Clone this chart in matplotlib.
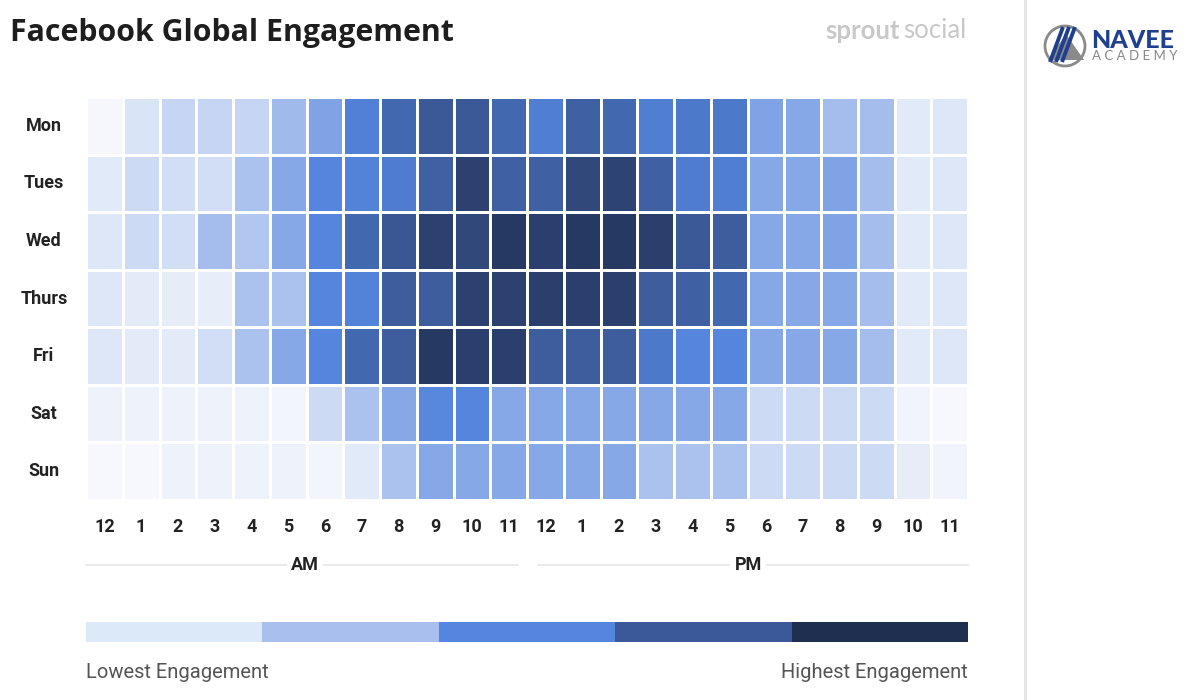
import numpy as np
import matplotlib
matplotlib.use('Agg')
import matplotlib.pyplot as plt
from matplotlib.colors import LinearSegmentedColormap
from matplotlib.patches import Rectangle, Circle, Polygon

days = ['Mon', 'Tues', 'Wed', 'Thurs', 'Fri', 'Sat', 'Sun']
hours = ['12', '1', '2', '3', '4', '5', '6', '7', '8', '9', '10', '11',
         '12', '1', '2', '3', '4', '5', '6', '7', '8', '9', '10', '11']

# engagement level, 0 (lowest) .. 10 (highest)
mon = [0.3, 1.5, 2.2, 2.2, 2.2, 3.3, 4.2, 5.5, 6.5, 7.2, 7.2, 6.5,
       5.6, 6.8, 6.5, 5.6, 5.8, 5.8, 4.2, 4.0, 3.2, 3.2, 1.2, 1.3]
tues = [1.2, 2.0, 1.8, 1.8, 3.0, 4.0, 5.3, 5.4, 5.7, 6.8, 8.3, 6.8,
        6.8, 8.0, 8.2, 6.8, 5.7, 5.6, 4.0, 4.0, 4.2, 3.2, 1.2, 1.3]
wed = [1.3, 2.0, 1.8, 3.2, 2.8, 4.0, 5.3, 6.5, 7.3, 8.3, 8.0, 9.0,
       8.4, 9.0, 9.0, 8.5, 7.2, 7.0, 4.0, 4.0, 4.2, 3.2, 1.2, 1.3]
thurs = [1.3, 1.1, 1.0, 0.9, 3.0, 3.0, 5.3, 5.4, 7.0, 7.0, 8.3, 8.3,
         8.5, 8.4, 8.4, 7.0, 6.8, 6.5, 4.0, 4.0, 4.0, 3.2, 1.2, 1.3]
fri = [1.3, 1.1, 1.1, 1.8, 3.0, 4.0, 5.3, 6.5, 7.0, 9.0, 8.4, 8.4,
       7.0, 7.0, 7.0, 5.8, 5.3, 5.3, 4.0, 4.0, 4.0, 3.2, 1.2, 1.3]
sat = [0.6, 0.6, 0.6, 0.6, 0.6, 0.4, 2.0, 3.0, 4.0, 5.2, 5.3, 4.0,
       4.0, 4.0, 4.0, 4.0, 4.0, 4.0, 2.0, 2.0, 2.0, 2.0, 0.5, 0.2]
sun = [0.2, 0.2, 0.6, 0.6, 0.6, 0.6, 0.4, 1.2, 3.0, 4.0, 4.0, 4.0,
       4.0, 4.0, 4.0, 3.0, 3.0, 3.0, 2.0, 2.0, 2.0, 2.0, 1.0, 0.5]

legend_colors = ['#dce9f8', '#a9c0ee', '#5586df', '#3b5898', '#1f2f4f']

cmap = LinearSegmentedColormap.from_list('eng', [
    (0.00, '#fafbfe'), (0.10, '#e6edf9'), (0.20, '#ccdaf4'),
    (0.30, '#abc2ee'), (0.40, '#86a8e6'), (0.53, '#5585dd'),
    (0.65, '#4268b0'), (0.73, '#3a5793'), (0.83, '#2c4170'),
    (1.00, '#1e2d50')])

label_font = 'Roboto'

W, H = 1200, 700
fig = plt.figure(figsize=(12, 7), dpi=100)
fig.patch.set_facecolor('white')

# heatmap
x0, x1, y0, y1 = 86, 968, 97, 500
ax = fig.add_axes([x0 / W, 1 - y1 / H, (x1 - x0) / W, (y1 - y0) / H])
grid = np.array([mon, tues, wed, thurs, fri, sat, sun])
ax.pcolormesh(grid, cmap=cmap, vmin=0, vmax=10, edgecolors='white', linewidth=1.0)
ax.set_xlim(0, len(hours))
ax.set_ylim(len(days), 0)
ax.axis('off')

# overlay in pixel coordinates for text and decorations
ov = fig.add_axes([0, 0, 1, 1], facecolor='none')
ov.set_xlim(0, W)
ov.set_ylim(H, 0)
ov.axis('off')

ov.text(10, 33, 'Facebook Global Engagement', fontsize=21.8, fontweight='bold',
        color='#1e1e1e', va='center', ha='left', family='Open Sans')
ov.text(825, 31, 'sprout', fontsize=18.5, fontweight='bold', color='#c8c8c8',
        va='center', ha='left', family='Lato')
ov.text(903, 31, 'social', fontsize=18.5, color='#c8c8c8',
        va='center', ha='left', family='Lato')

row_h = (y1 - y0) / len(days)
for i, d in enumerate(days):
    ov.text(44, y0 + (i + 0.5) * row_h, d, fontsize=13, fontweight='bold',
            color='#222222', ha='center', va='center', family=label_font)

col_w = (x1 - x0) / len(hours)
for j, h in enumerate(hours):
    ov.text(x0 + (j + 0.5) * col_w, 527, h, fontsize=13, fontweight='bold',
            color='#222222', ha='center', va='center', family=label_font)

# AM / PM rules
ov.plot([86, 518], [565, 565], color='#e6e6e6', lw=1.2)
ov.plot([538, 968], [565, 565], color='#e6e6e6', lw=1.2)
for label, cx in [('AM', 305), ('PM', 748)]:
    ov.text(cx, 565, label, fontsize=13, fontweight='bold', color='#222222',
            ha='center', va='center', family=label_font,
            bbox=dict(facecolor='white', edgecolor='none', pad=3))

# legend bar
seg = (x1 - x0) / len(legend_colors)
for k, c in enumerate(legend_colors):
    ov.add_patch(Rectangle((x0 + k * seg, 622), seg, 20, facecolor=c, edgecolor='none'))
ov.text(86, 672, 'Lowest Engagement', fontsize=14.5, color='#555555',
        ha='left', va='center', family=label_font)
ov.text(968, 672, 'Highest Engagement', fontsize=14.5, color='#555555',
        ha='right', va='center', family=label_font)

# side panel separator
ov.plot([1025, 1025], [0, H], color='#e4e4e4', lw=2)

# Navee Academy logo
ov.add_patch(Circle((1065, 46), 20, facecolor='none', edgecolor='#8a8a8a', lw=2))
ov.add_patch(Polygon([[1066, 34], [1084, 60], [1048, 60]], closed=True,
                     facecolor='#8a8a8a', edgecolor='none'))
for dx in (0, 6, 12):
    ov.plot([1050 + dx, 1063 + dx], [62, 27], color='#1f3f8f', lw=2.8,
            solid_capstyle='butt')
ov.text(1091, 40, 'NAVEE', fontsize=18, fontweight='black', color='#1f3f8f',
        ha='left', va='center', family='Lato')
ov.text(1092, 56, 'A C A D E M Y', fontsize=9.5, color='#888888',
        ha='left', va='center', family='Lato')

fig.savefig('out.png', dpi=100, facecolor='white')
